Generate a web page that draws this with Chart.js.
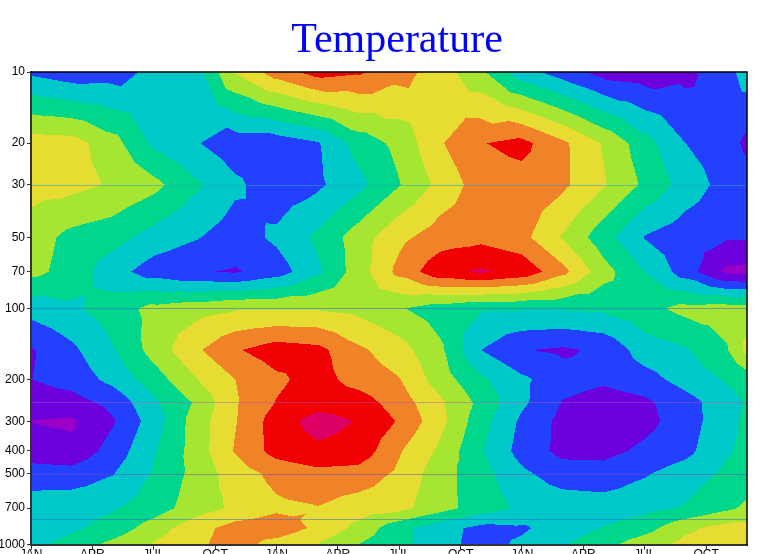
<!DOCTYPE html>
<html>
<head>
<meta charset="utf-8">
<script src="https://cdn.jsdelivr.net/npm/chart.js@4.4.1/dist/chart.umd.min.js"></script>
<style>
  html, body { margin: 0; padding: 0; background: #fff; overflow: hidden; }
  #wrap { position: relative; width: 763px; height: 554px; }
</style>
</head>
<body>
<div id="wrap"><canvas id="tempChart"></canvas></div>
<script>
// grid columns: months since the first JAN
const months = [0, 2, 4, 6, 8, 10, 12, 14, 16, 18, 20, 22, 24, 26, 28, 30, 32, 34, 35];
// grid rows: pressure levels (hPa), bottom to top
const pressureLevels = [1000, 850, 700, 500, 400, 300, 250, 200, 150, 100, 70, 50, 30, 20, 10];

// temperature anomaly (deg C) at each level, one value per month column
const t1000 = [-1.3, -0.6, 0.3, 1.1, 1.8, 2.4, 1.6, 0.95, 0.0, -0.7, -1.6, -2.4, -1.8, -1.1, -0.3, 0.6, 1.3, 1.5, 1.5];
const t850 = [-1.6, -1.2, -0.6, 0.5, 1.6, 2.4, 2.6, 1.8, 0.7, -0.7, -1.6, -2.3, -2.15, -1.5, -0.95, -0.4, 0.8, 1.4, 1.4];
const t700 = [-1.5, -1.3, -1.1, -0.5, 0.5, 1.2, 1.8, 1.95, 1.5, 1.3, 0.4, -0.5, -1.2, -1.4, -1.5, -1.3, -0.9, -0.2, 0.2];
const t500 = [-2.5, -2.6, -2.05, -0.9, 0.3, 1.5, 2.3, 2.7, 2.6, 1.8, 0.4, -0.6, -1.8, -2.5, -2.6, -2.1, -1.5, -0.8, -0.6];
const t400 = [-3.6, -3.75, -2.6, -1.1, 0.4, 2.1, 3.4, 3.8, 3.65, 2.1, 0.8, -0.9, -2.4, -3.3, -3.3, -2.8, -2.3, -1.1, -0.8];
const t300 = [-4.02, -4.15, -3.1, -1.5, 0.4, 1.95, 3.5, 4.4, 3.95, 2.9, 1.3, -0.6, -2.2, -3.3, -3.7, -3.3, -2.5, -1.3, -0.8];
const t250 = [-3.5, -3.4, -2.7, -1.2, 0.1, 1.9, 3.05, 3.6, 3.5, 2.5, 1.2, -0.3, -1.8, -3.05, -3.5, -3.2, -2.4, -1.4, -0.9];
const t200 = [-3.02, -2.6, -1.7, -0.5, 0.9, 2.0, 2.8, 3.4, 2.6, 2.05, 0.5, -0.8, -1.8, -2.6, -2.8, -2.4, -1.6, -0.9, -0.6];
const t150 = [-3.1, -2.2, -1.1, 0.4, 1.8, 2.9, 3.5, 3.3, 2.2, 1.4, 0.2, -2.0, -2.95, -3.15, -2.8, -1.5, -1.1, -0.1, 1.3];
const t100 = [-1.6, -1.2, -0.5, 0.3, 0.6, 0.9, 0.9, 0.9, 0.7, 0.1, -0.5, -0.9, -0.9, -0.9, -0.8, -0.3, 0.3, 0.5, 0.5];
const t70 = [0.3, -0.4, -1.6, -2.5, -2.9, -3.1, -2.5, -1.2, 0.5, 2.3, 3.7, 4.15, 3.7, 2.3, 0.4, -1.0, -2.5, -4.2, -4.3];
const t50 = [0.5, -0.3, -0.6, -1.4, -1.9, -2.5, -1.8, -0.8, 0.5, 1.75, 2.5, 2.7, 2.3, 0.9, -0.6, -2.05, -2.6, -2.9, -2.9];
const t30 = [1.4, 1.3, 0.9, 0.3, -0.8, -1.8, -2.6, -2.2, -1.3, -0.05, 1.3, 2.5, 2.6, 2.2, 1.1, -0.2, -1.4, -2.4, -2.6];
const t20 = [1.5, 1.4, 0.4, -1.2, -1.9, -2.6, -2.6, -2.1, -0.6, 0.3, 1.9, 2.95, 3.3, 2.2, 0.9, -0.6, -2.0, -2.6, -3.2];
const t10 = [-2.2, -2.6, -2.5, -1.7, -1.5, 1.1, 2.5, 3.4, 3.15, 2.4, 1.5, 0.2, -1.6, -2.5, -3.4, -3.6, -3.3, -2.4, -1.5];
const temps = [t1000, t850, t700, t500, t400, t300, t250, t200, t150, t100, t70, t50, t30, t20, t10];

const contourLevels = [-4, -3, -2, -1, 0, 1, 2, 3, 4];
const bandColors = ["#9c00c8", "#6c00dc", "#2340ff", "#00c8c8", "#00d68c",
                    "#a6e632", "#e6dc32", "#f08228", "#f00000", "#dc0064"];

const monthTicks = [0, 3, 6, 9, 12, 15, 18, 21, 24, 27, 30, 33];
const monthTickLabels = ["JAN", "APR", "JUL", "OCT", "JAN", "APR", "JUL", "OCT", "JAN", "APR", "JUL", "OCT"];
const pressureTicks = [10, 20, 30, 50, 70, 100, 200, 300, 400, 500, 700, 1000];
const seamLevels = [30, 100, 250, 500, 775];
const seamColors = ["rgba(40,160,200,0.55)", "rgba(40,90,220,0.5)", "rgba(170,80,200,0.45)",
                    "rgba(110,70,200,0.5)", "rgba(40,110,210,0.5)"];

function bandIndex(v) {
  let k = 0;
  while (k < contourLevels.length && v >= contourLevels[k]) k++;
  return k;
}

function clamp01(f) { return Math.min(1, Math.max(0, f)); }

// value inside one grid cell: 4 triangles meeting at the cell centre
function cellValue(va, vb, vc, vd, fx, fy) {
  const ve = (va + vb + vc + vd) / 4;
  const u = fx - 0.5, w = fy - 0.5;
  if (Math.abs(w) >= Math.abs(u)) {
    // bottom (a-b) or top (c-d) triangle
    const t = 1 - 2 * Math.abs(w);           // weight of centre
    const s = t >= 1 ? 0.5 : (fx - t / 2) / (1 - t);
    const edge = w < 0 ? va + s * (vb - va) : vc + s * (vd - vc);
    return edge * (1 - t) + ve * t;
  } else {
    // left (a-c) or right (b-d) triangle
    const t = 1 - 2 * Math.abs(u);
    const s = t >= 1 ? 0.5 : (fy - t / 2) / (1 - t);
    const edge = u < 0 ? va + s * (vc - va) : vb + s * (vd - vb);
    return edge * (1 - t) + ve * t;
  }
}

// filled contours drawn through the chart's own scales
const contourFill = {
  id: "contourFill",
  beforeDraw(chart) {
    const { ctx, chartArea: a, scales: { x, y } } = chart;
    const w = Math.round(a.right - a.left), h = Math.round(a.bottom - a.top);
    const off = document.createElement("canvas");
    off.width = w; off.height = h;
    const octx = off.getContext("2d");
    const img = octx.createImageData(w, h);
    const logP = pressureLevels.map(Math.log10);
    const rgb = bandColors.map(c => [parseInt(c.slice(1, 3), 16), parseInt(c.slice(3, 5), 16), parseInt(c.slice(5, 7), 16)]);

    const cols = [];
    for (let px = 0; px < w; px++) {
      const m = x.getValueForPixel(a.left + px + 0.5);
      let i = 0;
      while (i < months.length - 2 && m > months[i + 1]) i++;
      cols.push([i, clamp01((m - months[i]) / (months[i + 1] - months[i]))]);
    }
    const rows = [];
    for (let py = 0; py < h; py++) {
      const lp = Math.log10(y.getValueForPixel(a.top + py + 0.5));
      let j = 0;
      while (j < logP.length - 2 && lp < logP[j + 1]) j++;
      rows.push([j, clamp01((logP[j] - lp) / (logP[j] - logP[j + 1]))]);
    }

    for (let py = 0; py < h; py++) {
      const [j, fy] = rows[py];
      const r0 = temps[j], r1 = temps[j + 1];
      for (let px = 0; px < w; px++) {
        const [i, fx] = cols[px];
        const v = cellValue(r0[i], r0[i + 1], r1[i], r1[i + 1], fx, fy);
        const col = rgb[bandIndex(v)];
        const o = (py * w + px) * 4;
        img.data[o] = col[0]; img.data[o + 1] = col[1]; img.data[o + 2] = col[2]; img.data[o + 3] = 255;
      }
    }
    octx.putImageData(img, 0, 0);
    ctx.save();
    ctx.drawImage(off, a.left, a.top, a.right - a.left, a.bottom - a.top);

    // faint lines where the data tiles meet
    ctx.lineWidth = 1;
    seamLevels.forEach((p, k) => {
      const py = Math.round(y.getPixelForValue(p)) + 0.5;
      ctx.strokeStyle = seamColors[k];
      ctx.beginPath();
      ctx.moveTo(a.left, py);
      ctx.lineTo(a.right, py);
      ctx.stroke();
    });
    ctx.restore();
  },
  afterDraw(chart) {
    const { ctx, chartArea: a } = chart;
    ctx.save();
    ctx.strokeStyle = "#000";
    ctx.lineWidth = 1.5;
    ctx.beginPath();
    ctx.moveTo(a.left, a.top);
    ctx.lineTo(a.right, a.top);
    ctx.lineTo(a.right, a.bottom);
    ctx.stroke();

    ctx.fillStyle = "#0000ff";
    ctx.font = '42px "Liberation Serif", "DejaVu Serif", serif';
    ctx.textAlign = "center";
    ctx.textBaseline = "alphabetic";
    ctx.fillText("Temperature", 397, 52);
    ctx.restore();
  }
};

const tickFont = { family: '"Liberation Sans", Arial, sans-serif', size: 12 };

new Chart(document.getElementById("tempChart"), {
  type: "scatter",
  data: { datasets: [] },
  options: {
    responsive: true,
    maintainAspectRatio: false,
    animation: false,
    layout: { padding: { top: 72, right: 16, left: 0, bottom: 0 } },
    plugins: {
      legend: { display: false },
      title: { display: false },
      tooltip: { enabled: false },
    },
    scales: {
      x: {
        type: "linear",
        min: 0,
        max: 35,
        afterFit: scale => { scale.height = 9; },
        afterBuildTicks: scale => { scale.ticks = monthTicks.map(v => ({ value: v })); },
        ticks: {
          autoSkip: false,
          maxRotation: 0,
          padding: -2,
          color: "#000",
          font: tickFont,
          callback: (value, index) => monthTickLabels[index],
        },
        grid: { drawOnChartArea: false, drawTicks: true, tickLength: 5, color: "#333" },
        border: { color: "#333", width: 2 },
      },
      y: {
        type: "logarithmic",
        reverse: true,
        min: 10,
        max: 1000,
        afterFit: scale => { scale.width = 31; },
        afterBuildTicks: scale => { scale.ticks = pressureTicks.map(v => ({ value: v })); },
        ticks: {
          autoSkip: false,
          padding: 2,
          color: "#000",
          font: tickFont,
          callback: value => String(value),
        },
        grid: { drawOnChartArea: false, drawTicks: true, tickLength: 4, color: "#333" },
        border: { color: "#333", width: 2 },
      },
    },
  },
  plugins: [contourFill],
});
</script>
</body>
</html>
